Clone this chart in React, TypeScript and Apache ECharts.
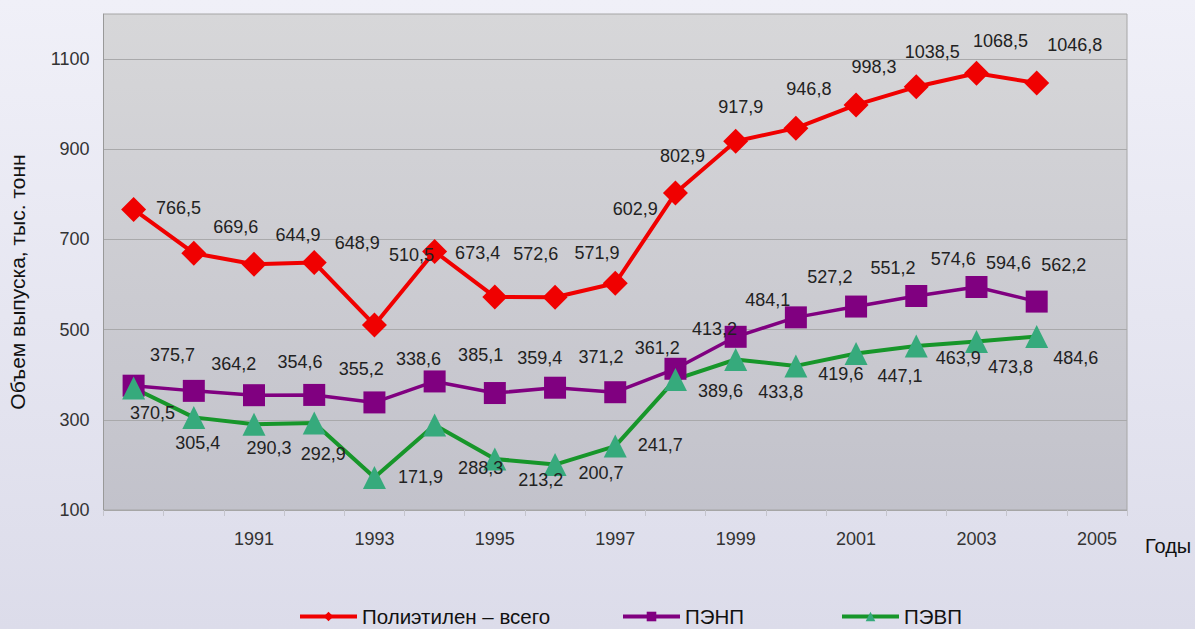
import React, { useEffect, useRef } from "react";
import * as echarts from "echarts";

const years = [
  "1989", "1990", "1991", "1992", "1993", "1994", "1995", "1996", "1997",
  "1998", "1999", "2000", "2001", "2002", "2003", "2004", "2005",
];
const xTickLabels = ["1991", "1993", "1995", "1997", "1999", "2001", "2003", "2005"];
const yTickLabels = [100, 300, 500, 700, 900, 1100];

const totalPE = [766.5, 669.6, 644.9, 648.9, 510.5, 673.4, 572.6, 571.9, 602.9, 802.9, 917.9, 946.8, 998.3, 1038.5, 1068.5, 1046.8];
const ldpe = [375.7, 364.2, 354.6, 355.2, 338.6, 385.1, 359.4, 371.2, 361.2, 413.2, 484.1, 527.2, 551.2, 574.6, 594.6, 562.2];
const hdpe = [370.5, 305.4, 290.3, 292.9, 171.9, 288.3, 213.2, 200.7, 241.7, 389.6, 433.8, 419.6, 447.1, 463.9, 473.8, 484.6];

// label offsets (dx, dy) from each marker, as placed in the original
const totalOffsets = [[45, -1], [42, -26], [44, -29], [43, -19], [37, -70], [43, 2], [41, -43], [42, -44], [20, -74], [7, -37], [5, -34], [13, -39], [18, -38], [16, -35], [24, -32], [38, -38]];
const ldpeOffsets = [[39, -31], [40, -27], [46, -33], [47, -26], [44, -43], [46, -26], [45, -35], [46, -31], [42, -44], [39, -40], [32, -37], [34, -40], [37, -39], [37, -37], [32, -24], [27, -37]];
const hdpeOffsets = [[19, 25], [4, 26], [15, 24], [9, 31], [46, -1], [46, 43], [46, 21], [46, 8], [45, -1], [45, 12], [45, 33], [45, 8], [44, 23], [42, 12], [34, 26], [39, 21]];

const FONT = "'Liberation Sans', Arial, sans-serif";

const fmt = (v: number) => v.toFixed(1).replace(".", ",");

function withLabels(values: number[], offsets: number[][]) {
  return values.map((v, i) => ({ value: v, label: { offset: offsets[i] } }));
}

const legendBase = {
  top: 606,
  padding: 0,
  itemWidth: 57,
  itemHeight: 12,
  itemGap: 10,
  lineStyle: { width: 4 },
  textStyle: { fontSize: 20.5, fontFamily: FONT, color: "#111" },
  selectedMode: false,
};

export default function App() {
  const ref = useRef<HTMLDivElement>(null);

  useEffect(() => {
    if (!ref.current) return;
    const chart = echarts.init(ref.current, null, { renderer: "svg" });
    const label = {
      show: true,
      position: "inside" as const,
      formatter: (p: any) => fmt(p.value),
      color: "#222",
      fontSize: 18,
      fontFamily: FONT,
    };
    chart.setOption({
      animation: false,
      grid: {
        left: 103.5,
        right: 68,
        top: 14,
        bottom: 119,
        show: true,
        borderColor: "#a6a6a6",
        borderWidth: 1,
        backgroundColor: new echarts.graphic.LinearGradient(0, 0, 0, 1, [
          { offset: 0, color: "#d7d7d9" },
          { offset: 1, color: "#c2c2cb" },
        ]),
      },
      legend: [
        { ...legendBase, data: ["Полиэтилен – всего"], left: 298 },
        { ...legendBase, data: ["ПЭНП"], left: 621 },
        { ...legendBase, data: ["ПЭВП"], left: 840 },
      ],
      xAxis: {
        type: "category",
        data: years,
        boundaryGap: true,
        axisLine: { show: true, lineStyle: { color: "#a6a6a6" } },
        axisTick: { show: true, interval: 0, length: 6, lineStyle: { color: "#c4c4cc" } },
        axisLabel: {
          interval: (_i: number, v: string) => xTickLabels.includes(v),
          margin: 20,
          fontSize: 18,
          fontFamily: FONT,
          color: "#333",
        },
        splitLine: { show: false },
      },
      yAxis: {
        type: "value",
        min: 100,
        max: 1200,
        interval: 100,
        axisLine: { show: true, lineStyle: { color: "#999" } },
        axisTick: { show: false },
        axisLabel: {
          formatter: (v: number) => (yTickLabels.includes(v) ? String(v) : ""),
          margin: 14,
          fontSize: 18,
          fontFamily: FONT,
          color: "#333",
        },
        splitLine: {
          show: true,
          lineStyle: { color: ["#a9a9ab", "rgba(0,0,0,0)"], width: 1 },
        },
      },
      graphic: [
        {
          type: "text",
          x: 17,
          y: 282,
          rotation: Math.PI / 2,
          style: {
            text: "Объем выпуска, тыс. тонн",
            fontSize: 21,
            fontFamily: FONT,
            fill: "#111",
            align: "center",
            verticalAlign: "middle",
          },
        },
        {
          type: "text",
          x: 1145,
          y: 546,
          style: {
            text: "Годы",
            fontSize: 20,
            fontFamily: FONT,
            fill: "#111",
            align: "left",
            verticalAlign: "middle",
          },
        },
      ],
      series: [
        {
          name: "Полиэтилен – всего",
          type: "line",
          data: withLabels(totalPE, totalOffsets),
          symbol: "diamond",
          symbolSize: 25,
          lineStyle: { color: "#f00000", width: 4 },
          itemStyle: { color: "#f00000" },
          label,
          silent: true,
        },
        {
          name: "ПЭНП",
          type: "line",
          data: withLabels(ldpe, ldpeOffsets),
          symbol: "rect",
          symbolSize: 22,
          lineStyle: { color: "#800080", width: 3.5 },
          itemStyle: { color: "#800080" },
          label,
          silent: true,
        },
        {
          name: "ПЭВП",
          type: "line",
          data: withLabels(hdpe, hdpeOffsets),
          symbol: "triangle",
          symbolSize: 23,
          lineStyle: { color: "#17962a", width: 4 },
          itemStyle: { color: "#36aa7c" },
          label,
          silent: true,
        },
      ],
    });
    return () => chart.dispose();
  }, []);

  return (
    <div
      style={{
        position: "fixed",
        left: 0,
        top: 0,
        width: 1195,
        height: 629,
        background: "linear-gradient(#f0f0f8, #dcdcea)",
      }}
    >
      <div ref={ref} style={{ width: 1195, height: 629 }} />
    </div>
  );
}
